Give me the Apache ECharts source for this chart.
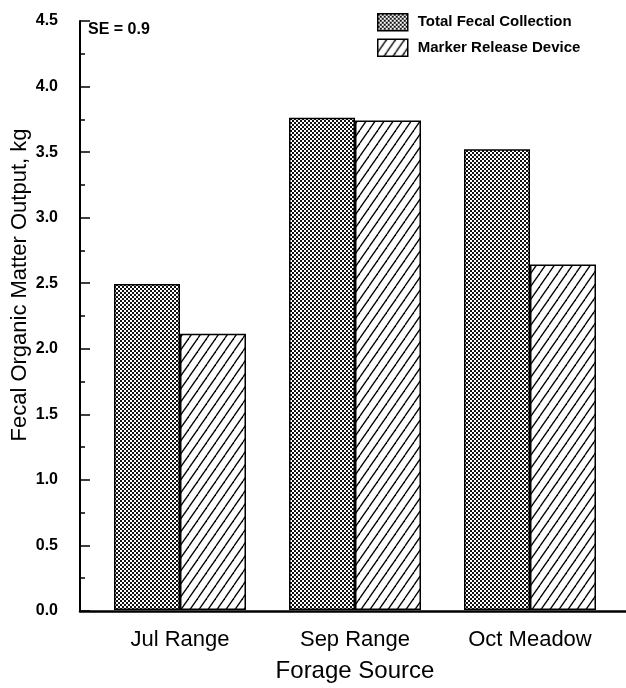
<!DOCTYPE html>
<html>
<head>
<meta charset="utf-8">
<script src="https://cdn.jsdelivr.net/npm/echarts@6/dist/echarts.min.js"></script>
<style>
  html, body { margin: 0; padding: 0; background: #fff; }
  #chart { width: 626px; height: 688px; }
</style>
</head>
<body>
<div id="chart"></div>
<script>
// Fecal organic matter output by forage source, two estimation methods
const categories = ['Jul Range', 'Sep Range', 'Oct Meadow'];
const totalFecalCollection = [2.49, 3.76, 3.52];
const markerReleaseDevice = [2.11, 3.74, 2.64];
const seriesNames = ['Total Fecal Collection', 'Marker Release Device'];
const yMin = 0, yMax = 4.5, yStep = 0.5;
const seNote = 'SE = 0.9';
const xTitle = 'Forage Source';
const yTitle = 'Fecal Organic Matter Output, kg';

const FONT = '"Liberation Sans", Arial, Helvetica, sans-serif';

// Fine checkered stipple fill
function checkerTile() {
  const c = document.createElement('canvas');
  c.width = 4; c.height = 4;
  const g = c.getContext('2d');
  g.fillStyle = '#fff';
  g.fillRect(0, 0, 4, 4);
  g.fillStyle = '#111';
  for (let y = 0; y < 4; y++) {
    for (let x = 0; x < 4; x++) {
      if ((Math.floor(x / 2) + Math.floor(y / 2)) % 2 === 0) g.fillRect(x, y, 1, 1);
    }
  }
  return c;
}

// Steep forward-slash hatching
function hatchTile() {
  const w = 9, h = 13;
  const c = document.createElement('canvas');
  c.width = w; c.height = h;
  const g = c.getContext('2d');
  g.fillStyle = '#fff';
  g.fillRect(0, 0, w, h);
  g.strokeStyle = '#000';
  g.lineWidth = 1.3;
  for (let k = -1; k <= 1; k++) {
    g.beginPath();
    g.moveTo(k * w, h);
    g.lineTo((k + 1) * w, 0);
    g.stroke();
  }
  return c;
}

const checkerFill = { image: checkerTile(), repeat: 'repeat' };
const hatchFill = { image: hatchTile(), repeat: 'repeat' };

const chart = echarts.init(document.getElementById('chart'), null, { renderer: 'canvas' });

const option = {
  animation: false,
  backgroundColor: '#fff',
  textStyle: { fontFamily: FONT, color: '#000' },
  title: {
    text: seNote,
    left: 83, top: 17,
    textStyle: { fontFamily: FONT, fontSize: 16, fontWeight: 'bold', color: '#000' }
  },
  legend: {
    orient: 'vertical',
    left: 372, top: 8,
    icon: 'rect',
    itemWidth: 30, itemHeight: 17,
    itemGap: 7,
    data: seriesNames,
    textStyle: { fontFamily: FONT, fontSize: 15, fontWeight: 'bold', color: '#000', padding: [0, 0, 0, 5] },
    itemStyle: { borderColor: '#000', borderWidth: 1.5 }
  },
  grid: [
    { left: 92.5, right: 8.5, top: 21, bottom: 77 },
    { left: 80, right: 0, top: 21, bottom: 77 }
  ],
  xAxis: [
    {
      type: 'category', gridIndex: 0, data: categories,
      axisLine: { show: false }, axisTick: { show: false },
      axisLabel: { fontFamily: FONT, fontSize: 22, color: '#000', margin: 19 },
      name: xTitle, nameLocation: 'middle', nameGap: 49,
      nameTextStyle: { fontFamily: FONT, fontSize: 24, color: '#000' }
    },
    {
      type: 'value', gridIndex: 1, min: 0, max: 1,
      axisLine: { show: true, lineStyle: { color: '#000', width: 2.5 } },
      axisTick: { show: false }, axisLabel: { show: false }, splitLine: { show: false }
    }
  ],
  yAxis: [
    { type: 'value', gridIndex: 0, min: yMin, max: yMax, show: false, splitLine: { show: false } },
    {
      type: 'value', gridIndex: 1, min: yMin, max: yMax, interval: yStep,
      axisLine: { show: true, lineStyle: { color: '#000', width: 2 } },
      axisTick: { show: true, inside: true, length: 10, lineStyle: { color: '#000', width: 1.5 } },
      minorTick: { show: true, splitNumber: 2, length: 5, lineStyle: { color: '#000', width: 1.5 } },
      axisLabel: {
        fontFamily: FONT, fontSize: 16, fontWeight: 'bold', color: '#000', margin: 22,
        formatter: v => v.toFixed(1)
      },
      splitLine: { show: false }
    }
  ],
  graphic: [
    {
      type: 'text', x: 20, y: 285, rotation: Math.PI / 2,
      style: {
        text: yTitle, font: '22px ' + FONT, fill: '#000',
        align: 'center', verticalAlign: 'middle'
      }
    }
  ],
  series: [
    {
      name: seriesNames[0], type: 'bar', xAxisIndex: 0, yAxisIndex: 0,
      data: totalFecalCollection, barWidth: 66, barGap: '0%',
      itemStyle: { color: checkerFill, borderColor: '#000', borderWidth: 1.5 }
    },
    {
      name: seriesNames[1], type: 'bar', xAxisIndex: 0, yAxisIndex: 0,
      data: markerReleaseDevice, barWidth: 66, barGap: '0%',
      itemStyle: { color: hatchFill, borderColor: '#000', borderWidth: 1.5 }
    }
  ]
};

chart.setOption(option);
</script>
</body>
</html>
